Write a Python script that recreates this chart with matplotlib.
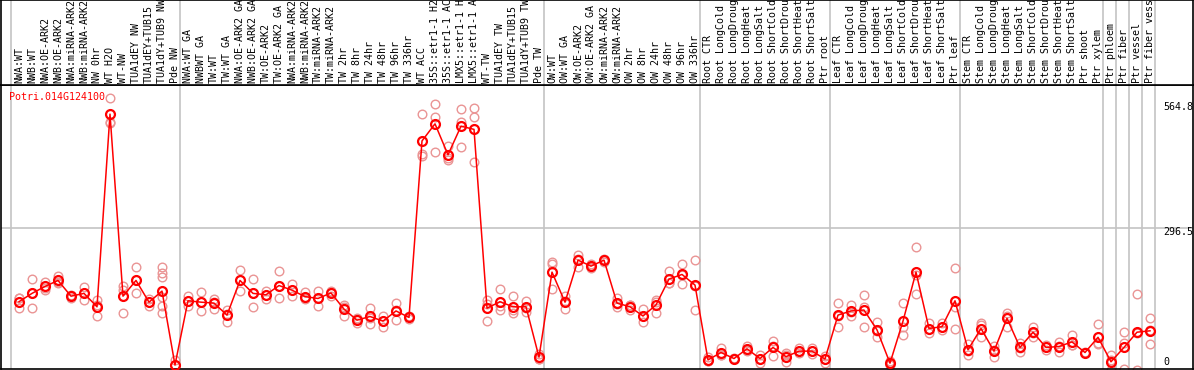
import matplotlib
matplotlib.use("Agg")
import matplotlib.pyplot as plt
import numpy as np

gene = "Potri.014G124100"

labels = [
    "NWA:WT", "NWB:WT", "NWA:OE-ARK2", "NWB:OE-ARK2", "NWA:miRNA-ARK2", "NWB:miRNA-ARK2",
    "NW 0hr", "WT H2O", "WT-NW", "TUA1dEY NW", "TUA1dEY+TUB15", "TUA1dY+TUB9 NW", "Pde NW",
    "NWA:WT GA", "NWBWT GA", "TW:WT", "TW:WT GA", "NWA:OE-ARK2 GA", "NWB:OE-ARK2 GA",
    "TW:OE-ARK2", "TW:OE-ARK2 GA", "NWA:miRNA-ARK2", "NWB:miRNA-ARK2", "TW:miRNA-ARK2",
    "TW:miRNA-ARK2", "TW 2hr", "TW 8hr", "TW 24hr", "TW 48hr", "TW 96hr", "TW 336hr",
    "WT ACC", "35S::etr1-1 H2O", "35S::etr1-1 ACC", "LMX5::etr1-1 H2O", "LMX5::etr1-1 ACC",
    "WT-TW", "TUA1dEY TW", "TUA1dEY+TUB15", "TUA1dY+TUB9 TW", "Pde TW",
    "OW:WT", "OW:WT GA", "OW:OE-ARK2", "OW:OE-ARK2 GA", "OW:miRNA-ARK2", "OW:miRNA-ARK2",
    "OW 2hr", "OW 8hr", "OW 24hr", "OW 48hr", "OW 96hr", "OW 336hr",
    "Root CTR", "Root LongCold", "Root LongDrought", "Root LongHeat", "Root LongSalt",
    "Root ShortCold", "Root ShortDrought", "Root ShortHeat", "Root ShortSalt", "Ptr root",
    "Leaf CTR", "Leaf LongCold", "Leaf LongDrought", "Leaf LongHeat", "Leaf LongSalt",
    "Leaf ShortCold", "Leaf ShortDrought", "Leaf ShortHeat", "Leaf ShortSalt", "Ptr leaf",
    "Stem CTR", "Stem LongCold", "Stem LongDrought", "Stem LongHeat", "Stem LongSalt",
    "Stem ShortCold", "Stem ShortDrought", "Stem ShortHeat", "Stem ShortSalt",
    "Ptr shoot", "Ptr xylem", "Ptr phloem", "Ptr fiber", "Ptr vessel", "Ptr fiber vessel",
]

means = [
    137, 155, 170, 183, 149, 155, 126, 543, 149, 183, 136, 160, 0,
    139, 136, 134, 108, 183, 155, 152, 172, 162, 148, 144, 156, 121, 97, 105, 95, 117, 103,
    485, 522, 455, 517, 510, 123, 137, 126, 126, 17,
    201, 136, 227, 214, 227, 134, 126, 106, 130, 186, 196, 173,
    11, 27, 14, 35, 14, 38, 18, 30, 30, 13,
    108, 117, 119, 76, 4, 95, 201, 79, 83, 139,
    33, 79, 30, 101, 38, 71, 38, 40, 50, 27, 60,
    7, 38, 71, 74,
]

replicates = [
    [144, 144, 123], [186, 124, 155], [180, 162, 167], [193, 177, 180], [144, 152, 150],
    [168, 141, 156], [141, 105, 130], [577, 527, 523], [171, 162, 112], [212, 155, 183],
    [143, 128, 137], [212, 200, 190, 148, 128, 112], [11, 0, 0],
    [149, 128, 139], [157, 117, 136], [143, 121, 137], [119, 94, 110], [205, 161, 183],
    [186, 126, 155], [161, 143, 152], [204, 144, 170], [175, 150, 162], [157, 142, 146],
    [160, 128, 144], [158, 150, 160], [130, 106, 126], [101, 90, 100], [124, 88, 102],
    [106, 83, 96], [134, 97, 120], [106, 100, 103],
    [543, 457, 452], [566, 536, 460], [473, 444, 447], [554, 525, 471], [556, 536, 439],
    [141, 95, 132], [164, 119, 128], [149, 112, 118], [139, 115, 124], [24, 14, 12],
    [222, 164, 218], [149, 121, 138], [238, 213, 230], [219, 212, 211], [230, 224, 227],
    [144, 126, 131], [119, 130, 129], [121, 92, 105], [141, 112, 137], [204, 177, 177],
    [219, 175, 195], [227, 119, 172],
    [17, 8, 8], [36, 22, 22], [16, 12, 14], [42, 30, 33], [22, 5, 14], [52, 20, 42],
    [25, 7, 22], [36, 25, 30], [36, 24, 30], [20, 5, 14],
    [134, 83, 106], [129, 107, 115], [152, 126, 82], [92, 61, 74], [9, 0, 3],
    [134, 83, 64], [255, 154, 194], [90, 69, 79], [90, 76, 83], [209, 126, 78],
    [45, 22, 31], [90, 61, 86], [41, 17, 33], [113, 83, 107], [47, 29, 37],
    [82, 60, 70], [43, 33, 38], [50, 29, 41], [65, 43, 43], [26, 28], [89, 47, 45],
    [21, -10, 10], [71, 47, -9], [154, 70, -10], [101, 45, 75],
]

group_starts = [0, 13, 41, 53, 63, 73, 84, 85, 86, 87, 88]
mid_value = 296.5
axis_texts = ["564.8", "296.5", "0"]

W, H = 1194, 370
fig = plt.figure(figsize=(W / 100, H / 100), dpi=100)
fig.patch.set_facecolor("white")

# pixel geometry
x0_px, x1_px = 1, 1193
y_top_px, y_sep_px, y_bot_px = 0, 85, 369
step = 13.0
first_pt = 19.0
xmin = (x0_px - first_pt) / step
xmax = (x1_px - first_pt) / step

zero_px = 365.0
scale = 0.462
ymin = (zero_px - y_bot_px) / scale
ymax = (zero_px - y_sep_px) / scale

ax = fig.add_axes([x0_px / W, (H - y_bot_px) / H, (x1_px - x0_px) / W, (y_bot_px - y_sep_px) / H])
lax = fig.add_axes([x0_px / W, (H - y_sep_px) / H, (x1_px - x0_px) / W, (y_sep_px - y_top_px) / H])

for a in (ax, lax):
    a.set_xlim(xmin, xmax)
    a.set_xticks([])
    a.set_yticks([])
    for s in a.spines.values():
        s.set_color("black")
        s.set_linewidth(1.2)
ax.set_ylim(ymin, ymax)
lax.set_ylim(0, 1)

grid_col = "#c4c4c4"
for g in group_starts:
    gx = g - 8.0 / step
    ax.axvline(gx, color=grid_col, lw=1.2, zorder=0)
    lax.axvline(gx, color=grid_col, lw=1.2, zorder=0)
ax.axhline(mid_value, color=grid_col, lw=1.2, zorder=0)

x = np.arange(len(means))
# replicates
rx, ry = [], []
for i, reps in enumerate(replicates):
    for v in reps:
        rx.append(i)
        ry.append(v)
ax.plot(rx, ry, linestyle="none", marker="o", markersize=6.2, markerfacecolor="none",
        markeredgecolor="#ea9494", markeredgewidth=1.0, zorder=2, clip_on=True)
ax.plot(x, means, color="#ff0000", lw=1.1, zorder=3)
ax.plot(x, means, linestyle="none", marker="o", markersize=6.4, markerfacecolor="none",
        markeredgecolor="#ff0000", markeredgewidth=1.6, zorder=4)

mono = "DejaVu Sans Mono"
fs = 7.2
for i, lab in enumerate(labels):
    lax.text(i, 2.0 / 85, lab, rotation=90, ha="center", va="bottom", family=mono,
             fontsize=fs, color="black", clip_on=True)

ax.text(8 / 1192, 1 - 11.7 / 284, gene, transform=ax.transAxes, ha="left", va="center",
        family=mono, fontsize=fs, color="#ff0000")

tx = (1163.5 - x0_px) / 1192
for t, ypx in zip(axis_texts, [106.7, 232.3, 362.0]):
    ax.text(tx, (y_bot_px - ypx) / 284, t, transform=ax.transAxes, ha="left", va="center",
            family=mono, fontsize=fs, color="black", clip_on=False)

fig.savefig("out.png", dpi=100, facecolor="white")
